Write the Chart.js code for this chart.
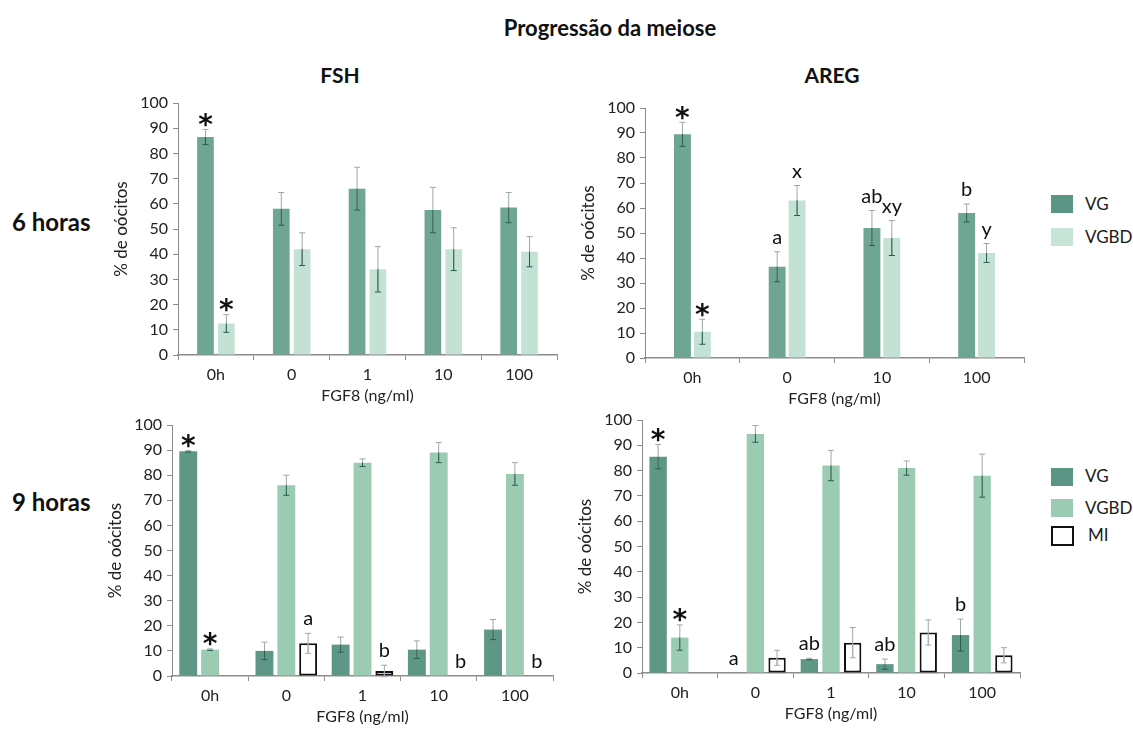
<!DOCTYPE html>
<html>
<head>
<meta charset="utf-8">
<script src="https://cdn.jsdelivr.net/npm/chart.js@4"></script>
<style>
  body { margin: 0; background: #fff; font-family: Lato, "Open Sans", sans-serif; }
  #page { position: relative; width: 1133px; height: 731px; overflow: hidden; }
  .panel { position: absolute; }
  .txt { position: absolute; color: #111; font-weight: bold; white-space: nowrap; }
  .sw { position: absolute; width: 22px; height: 18px; }
  .lg { position: absolute; font-size: 17px; color: #1a1a1a; }
</style>
</head>
<body>
<div id="page">
  <div class="txt" style="left:493px;top:14px;font-size:22px;width:234px;text-align:center">Progressão da meiose</div>
  <div class="txt" style="left:300px;top:62px;font-size:21px;width:80px;text-align:center">FSH</div>
  <div class="txt" style="left:792px;top:62px;font-size:21px;width:80px;text-align:center">AREG</div>
  <div class="txt" style="left:12px;top:207px;font-size:24px">6 horas</div>
  <div class="txt" style="left:12px;top:487px;font-size:24px">9 horas</div>

  <canvas id="fsh6" class="panel" style="left:108px;top:78px"></canvas>
  <canvas id="areg6" class="panel" style="left:575px;top:83px"></canvas>
  <canvas id="fsh9" class="panel" style="left:102px;top:400px"></canvas>
  <canvas id="areg9" class="panel" style="left:572px;top:395px"></canvas>

  <!-- legends -->
  <div class="sw" style="left:1051px;top:195px;background:#5b9584"></div>
  <div class="lg" style="left:1085px;top:193px">VG</div>
  <div class="sw" style="left:1051px;top:228px;background:#c7e5d6"></div>
  <div class="lg" style="left:1085px;top:226px">VGBD</div>

  <div class="sw" style="left:1051px;top:468px;background:#5b9584"></div>
  <div class="lg" style="left:1085px;top:465px">VG</div>
  <div class="sw" style="left:1051px;top:499px;background:#9ccbb4"></div>
  <div class="lg" style="left:1085px;top:497px">VGBD</div>
  <div class="sw" style="left:1051px;top:526px;width:19px;height:16px;border:2px solid #111;background:#fff"></div>
  <div class="lg" style="left:1088px;top:524px">MI</div>
</div>

<script>
//categories
var groups5 = ['0h', '0', '1', '10', '100'];
var groups4 = ['0h', '0', '10', '100'];

//---FSH 6 horas
var fsh6VG = [86.5, 58, 66, 57.5, 58.5];
var fsh6VGerr = [3, 6.5, 8.5, 9, 6];
var fsh6VGBD = [12.5, 42, 34, 42, 41];
var fsh6VGBDerr = [3.5, 6.5, 9, 8.5, 6];
var fsh6VGmarks = ['*', '', '', '', ''];
var fsh6VGBDmarks = ['*', '', '', '', ''];

//---AREG 6 horas
var areg6VG = [89.5, 36.5, 52, 58];
var areg6VGerr = [4.8, 6, 7, 3.6];
var areg6VGBD = [10.5, 63, 48, 42];
var areg6VGBDerr = [5, 6, 7, 3.8];
var areg6VGmarks = ['*', 'a', 'ab', 'b'];
var areg6VGBDmarks = ['*', 'x', 'xy', 'y'];

//---FSH 9 horas
var fsh9VG = [89.5, 10, 12.5, 10.5, 18.5];
var fsh9VGerr = [0.3, 3.5, 3, 3.5, 4];
var fsh9VGBD = [10.5, 76, 85, 89, 80.5];
var fsh9VGBDerr = [0.3, 4, 1.5, 4, 4.5];
var fsh9MI = [0, 13, 2, 0, 0];
var fsh9MIerr = [0, 4, 2.3, 0, 0];
var fsh9VGmarks = ['*', '', '', '', ''];
var fsh9VGBDmarks = ['*', '', '', '', ''];
var fsh9MImarks = ['', 'a', 'b', 'b', 'b'];

//---AREG 9 horas
var areg9VG = [85.5, 0, 5.5, 3.5, 15];
var areg9VGerr = [4.8, 0, 0.3, 2, 6.3];
var areg9VGBD = [14, 94.5, 82, 81, 78];
var areg9VGBDerr = [5, 3.3, 6, 2.8, 8.5];
var areg9MI = [0, 6, 12, 16, 7];
var areg9MIerr = [0, 3, 6, 5, 3];
var areg9VGmarks = ['*', 'a', 'ab', 'ab', 'b'];
var areg9VGBDmarks = ['*', '', '', '', ''];
var areg9MImarks = ['', '', '', '', ''];

var TXT = '#222';
var AXIS = '#8c8c8c';

// error bars + letters drawn from the bar elements and the y scale
var errorBars = {
  id: 'errorBars',
  afterDatasetsDraw: function (chart) {
    var ctx = chart.ctx, ys = chart.scales.y;
    chart.data.datasets.forEach(function (ds, i) {
      var meta = chart.getDatasetMeta(i);
      meta.data.forEach(function (bar, j) {
        var v = ds.data[j], e = ds.errors[j];
        var top = ys.getPixelForValue(v + e);
        if (e > 0) {
          var bot = ys.getPixelForValue(v - e), vp = ys.getPixelForValue(v);
          ctx.save();
          ctx.lineWidth = 1;
          ctx.strokeStyle = '#9aaaa4';
          ctx.beginPath();
          ctx.moveTo(bar.x, top); ctx.lineTo(bar.x, bot);
          ctx.moveTo(bar.x - 3, top); ctx.lineTo(bar.x + 3, top);
          ctx.stroke();
          ctx.strokeStyle = ds.isMI ? '#aab' : '#245e4e';
          ctx.beginPath();
          ctx.moveTo(bar.x, vp); ctx.lineTo(bar.x, bot);
          ctx.moveTo(bar.x - 3, bot); ctx.lineTo(bar.x + 3, bot);
          ctx.stroke();
          ctx.restore();
        }
        var m = ds.marks[j];
        if (m) {
          ctx.save();
          ctx.fillStyle = '#111';
          ctx.textAlign = 'center';
          if (m === '*') {
            ctx.font = 'bold 28px "DejaVu Sans"';
            ctx.textBaseline = 'middle';
            ctx.fillText(m, bar.x, top - 3);
          } else {
            ctx.font = '20px Lato';
            ctx.textBaseline = 'alphabetic';
            ctx.fillText(m, bar.x, top - 8);
          }
          ctx.restore();
        }
      });
    });
  }
};

function makeSet(label, data, errors, marks, color, isMI) {
  var ds = {
    label: label,
    data: data,
    errors: errors,
    marks: marks,
    backgroundColor: color,
    isMI: !!isMI
  };
  if (isMI) {
    ds.borderColor = '#111';
    ds.borderWidth = function (c) { return c.raw > 0 ? 2 : 0; };
    ds.borderSkipped = false;
  }
  return ds;
}

function barPanel(id, w, h, labels, datasets, catPct, barPct) {
  var cv = document.getElementById(id);
  cv.width = w; cv.height = h;
  datasets.forEach(function (d) {
    d.categoryPercentage = catPct;
    d.barPercentage = barPct;
  });
  return new Chart(cv.getContext('2d'), {
    type: 'bar',
    data: { labels: labels, datasets: datasets },
    plugins: [errorBars],
    options: {
      responsive: false,
      animation: false,
      devicePixelRatio: 1,
      layout: { padding: { top: 25, right: 5, left: 0, bottom: 0 } },
      plugins: { legend: { display: false }, tooltip: { enabled: false } },
      scales: {
        x: {
          afterFit: function (s) { s.height = 54; },
          border: { color: AXIS, width: 1.5 },
          grid: { drawOnChartArea: false, tickLength: 5, color: AXIS },
          ticks: { color: TXT, font: { family: 'Lato', size: 16 }, padding: 5 },
          title: { display: true, text: 'FGF8 (ng/ml)', color: TXT,
                   font: { family: 'Lato', size: 16 }, padding: { top: 0, bottom: 4 } }
        },
        y: {
          min: 0, max: 100,
          afterFit: function (s) { s.width = 70; },
          border: { color: AXIS, width: 1 },
          grid: { drawOnChartArea: false, tickLength: 5, color: AXIS },
          ticks: { stepSize: 10, color: TXT, font: { family: 'Lato', size: 16 }, padding: 5 },
          title: { display: true, text: '% de oócitos', color: TXT,
                   font: { family: 'Lato', size: 17 }, padding: { top: 3, bottom: 0 } }
        }
      }
    }
  });
}

var c6VG = '#6ea593', c6VGBD = '#c3e2d3';
var c9VG = '#5f9786', c9VGBD = '#9ccbb4';

barPanel('fsh6', 454, 331, groups5, [
  makeSet('VG', fsh6VG, fsh6VGerr, fsh6VGmarks, c6VG),
  makeSet('VGBD', fsh6VGBD, fsh6VGBDerr, fsh6VGBDmarks, c6VGBD)
], 0.55, 0.8);

barPanel('areg6', 454, 329, groups4, [
  makeSet('VG', areg6VG, areg6VGerr, areg6VGmarks, c6VG),
  makeSet('VGBD', areg6VGBD, areg6VGBDerr, areg6VGBDmarks, c6VGBD)
], 0.42, 0.85);

barPanel('fsh9', 456, 330, groups5, [
  makeSet('VG', fsh9VG, fsh9VGerr, fsh9VGmarks, c9VG),
  makeSet('VGBD', fsh9VGBD, fsh9VGBDerr, fsh9VGBDmarks, c9VGBD),
  makeSet('MI', fsh9MI, fsh9MIerr, fsh9MImarks, '#ffffff', true)
], 0.86, 0.82);

barPanel('areg9', 453, 332, groups5, [
  makeSet('VG', areg9VG, areg9VGerr, areg9VGmarks, c9VG),
  makeSet('VGBD', areg9VGBD, areg9VGBDerr, areg9VGBDmarks, c9VGBD),
  makeSet('MI', areg9MI, areg9MIerr, areg9MImarks, '#ffffff', true)
], 0.86, 0.8);
</script>
</body>
</html>
